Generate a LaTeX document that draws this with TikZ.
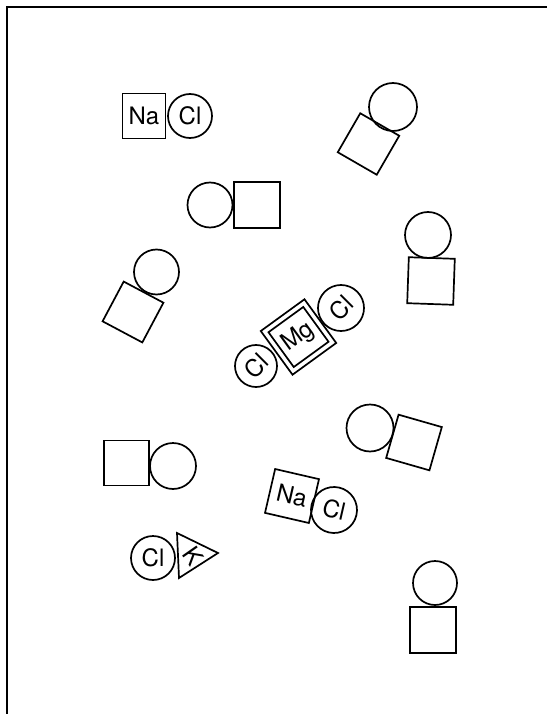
\documentclass[tikz,border=0pt]{standalone}
\usepackage{fontspec}
\setmainfont{TeX Gyre Heros}
\begin{document}
\begin{tikzpicture}[x=1pt,y=-1pt]
\tikzset{
  sq/.style={draw, line width=1.7pt, minimum size=45pt, inner sep=0pt, font=\fontsize{24}{24}\selectfont},
  atom/.style={circle, draw, line width=1.7pt, minimum size=45pt, inner sep=0pt, font=\fontsize{24}{24}\selectfont},
  lbl/.style={inner sep=0pt, font=\fontsize{24}{24}\selectfont}
}
\useasboundingbox (0,0) rectangle (547,714);
\draw[line width=1.8pt] (7,714) -- (7,7) -- (547,7);
% 1 NaCl
\node[sq, minimum width=43pt, minimum height=45pt] (na1) at (144,116) {Na};
\node[atom, minimum size=44pt] (cl1) at (190,116) {Cl};
% 2
\node[atom, minimum size=48pt] (c2) at (393,107) {};
\node[sq, rotate=-30] (s2) at (368.5,144) {};
% 3
\node[atom] (c3) at (210,205) {};
\node[sq, minimum size=46pt] (s3) at (257,205) {};
% 4
\node[atom, minimum size=46pt] (c4) at (428,235) {};
\node[sq, minimum size=46pt, rotate=-2] (s4) at (431,281) {};
% 5
\node[atom] (c5) at (156.5,272) {};
\node[sq, rotate=-28] (s5) at (133,312) {};
% 6 MgCl2
\node[sq, minimum size=54pt, rotate=36] (mgo) at (298.5,337) {};
\node[sq, minimum size=43pt, rotate=36] (mgi) at (298.5,337) {};
\node[lbl, rotate=36] (mg) at (mgi.center) {Mg};
\node[atom, minimum size=42pt, rotate=45] (clA) at (256,366) {Cl};
\node[atom, minimum size=46pt, rotate=45] (clB) at (341,308) {Cl};
% 7
\node[atom, minimum size=47pt] (c7) at (370,428) {};
\node[sq, rotate=-16] (s7) at (414,442.5) {};
% 8
\node[sq] (s8) at (126.5,463) {};
\node[atom, minimum size=46pt] (c8) at (173,466) {};
% 9 NaCl
\node[sq, rotate=-13] (na2) at (292,496) {Na};
\node[atom, minimum size=46pt, rotate=-13] (cl2) at (334,510) {Cl};
% 10 ClK
\node[atom, minimum size=44pt] (cl3) at (153,558) {Cl};
\coordinate (t1) at (177,533);
\coordinate (t2) at (218,553);
\coordinate (t3) at (179,578);
\draw[line width=1.7pt, line join=miter] (t1) -- (t2) -- (t3) -- cycle;
\node[lbl, rotate=-55] (k) at (193,556) {K};
% 11
\node[atom, minimum size=44pt] (c11) at (435,583) {};
\node[sq, minimum size=46pt] (s11) at (433,630) {};
\end{tikzpicture}
\end{document}
